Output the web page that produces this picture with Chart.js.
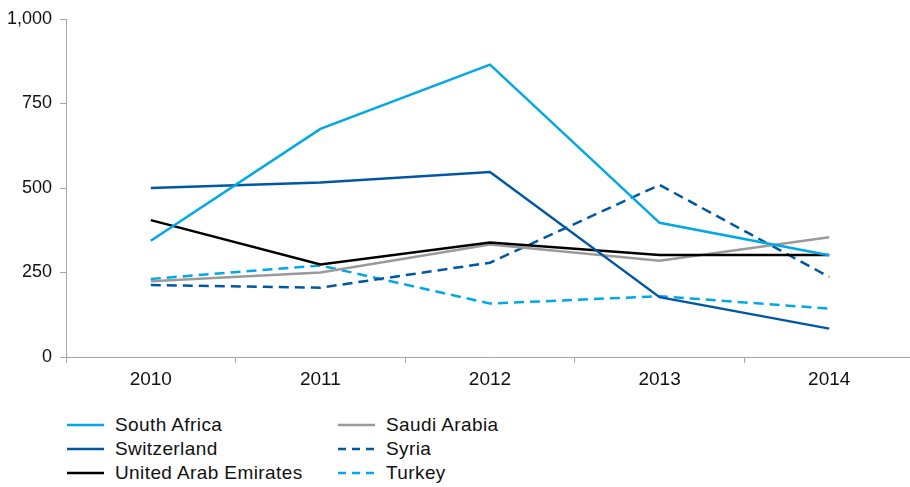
<!DOCTYPE html>
<html>
<head>
<meta charset="utf-8">
<script src="https://cdn.jsdelivr.net/npm/chart.js@4.4.0/dist/chart.umd.min.js"></script>
<style>
  html, body { margin: 0; padding: 0; background: #fff; overflow: hidden; }
  #wrap { position: relative; width: 914px; height: 400px; }
  #legend {
    position: absolute; left: 67px; top: 413px;
    display: grid; grid-template-rows: repeat(3, 24px); grid-auto-flow: column;
    grid-template-columns: 271px 200px;
    font-family: "Liberation Sans", Arial, sans-serif; font-size: 19px; letter-spacing: 0.4px; color: #111;
  }
  .item { display: flex; align-items: center; height: 24px; white-space: nowrap; }
  .item svg { margin-right: 11px; }
</style>
</head>
<body>
<div id="wrap"><canvas id="myLineChart" width="914" height="400"></canvas></div>
<div id="legend"></div>
<script>
// data
const years = ['2010', '2011', '2012', '2013', '2014'];
const southAfrica = [344, 675, 865, 397, 301];
const switzerland = [500, 516, 547, 177, 84];
const uae = [405, 274, 339, 302, 302];
const saudiArabia = [224, 250, 333, 285, 354];
const syria = [213, 205, 279, 509, 237];
const turkey = [231, 271, 158, 180, 143];
const yTicks = [0, 250, 500, 750, 1000];

const lightBlue = '#00a8e6';
const darkBlue = '#0058a3';
const grey = '#9a9a9a';

function series(label, data, color, dashed) {
    return {
        label: label,
        data: data,
        borderColor: color,
        backgroundColor: color,
        borderWidth: 2.5,
        borderDash: dashed ? [10, 6] : [],
        pointRadius: 0,
        tension: 0,
        fill: false
    };
}

const datasets = [
    series('South Africa', southAfrica, lightBlue, false),
    series('Switzerland', switzerland, darkBlue, false),
    series('United Arab Emirates', uae, '#000000', false),
    series('Saudi Arabia', saudiArabia, grey, false),
    series('Syria', syria, darkBlue, true),
    series('Turkey', turkey, lightBlue, true)
];

const ctx = document.getElementById('myLineChart').getContext('2d');
const fontFamily = '"Liberation Sans", Arial, sans-serif';

new Chart(ctx, {
    type: 'line',
    data: { labels: years, datasets: datasets },
    options: {
        responsive: false,
        animation: false,
        layout: { padding: { top: 19, left: 0, right: 0, bottom: 0 } },
        plugins: { legend: { display: false }, tooltip: { enabled: false } },
        scales: {
            x: {
                offset: true,
                grid: { offset: true, drawOnChartArea: false, tickLength: 6, color: '#a6a6a6' },
                border: { color: '#a6a6a6' },
                ticks: { font: { family: fontFamily, size: 19 }, color: '#111', padding: 5, maxRotation: 0 },
                afterFit: function(scale) { scale.height = 43; }
            },
            y: {
                min: 0,
                max: 1000,
                afterBuildTicks: function(scale) { scale.ticks = yTicks.map(v => ({ value: v })); },
                grid: { drawOnChartArea: false, tickLength: 6, color: '#a6a6a6' },
                border: { color: '#a6a6a6' },
                ticks: {
                    font: { family: fontFamily, size: 18 }, color: '#111', padding: 8,
                    callback: v => v.toLocaleString('en-US')
                },
                afterFit: function(scale) { scale.width = 66; }
            }
        }
    }
});

// legend, column by column
const legend = document.getElementById('legend');
datasets.forEach(ds => {
    const item = document.createElement('div');
    item.className = 'item';
    const dash = ds.borderDash.length ? 'stroke-dasharray="8,6"' : '';
    item.innerHTML = '<svg width="37" height="4"><line x1="0" y1="2" x2="37" y2="2" stroke="' +
        ds.borderColor + '" stroke-width="2.5" ' + dash + '/></svg><span>' + ds.label + '</span>';
    legend.appendChild(item);
});
</script>
</body>
</html>
